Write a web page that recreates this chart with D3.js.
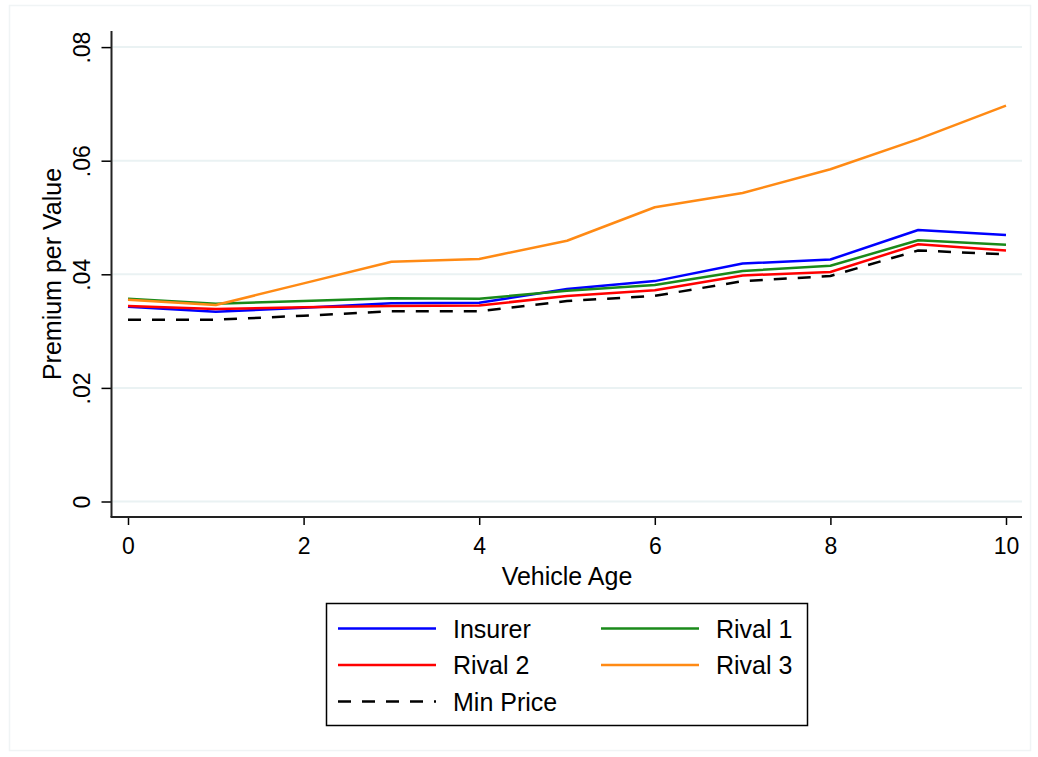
<!DOCTYPE html>
<html><head><meta charset="utf-8">
<script src="https://cdn.jsdelivr.net/npm/d3@7"></script>
<style>body{margin:0;background:#fff}svg{display:block}text{font-family:"Liberation Sans",Arial,sans-serif;fill:#000}</style>
</head><body>
<script>
const ages = [0,1,2,3,4,5,6,7,8,9,10];
const insurer = [0.0343,0.0334,0.0341,0.0349,0.0350,0.0374,0.0388,0.0419,0.0426,0.0478,0.0469];
const rival1  = [0.0357,0.0348,0.0353,0.0358,0.0357,0.0371,0.0381,0.0406,0.0415,0.0460,0.0452];
const rival2  = [0.0344,0.0339,0.0342,0.0344,0.0345,0.0362,0.0372,0.0398,0.0404,0.0453,0.0442];
const rival3  = [0.0355,0.0346,0.0384,0.0422,0.0427,0.0459,0.0518,0.0543,0.0585,0.0638,0.0697];
const minPrice= [0.0320,0.0320,0.0327,0.0335,0.0335,0.0353,0.0362,0.0388,0.0397,0.0442,0.0435];
const xTicks = [0,2,4,6,8,10];
const yTicks = [0,0.02,0.04,0.06,0.08];
const yTickLabels = ["0",".02",".04",".06",".08"];
const seriesNames = ["Insurer","Rival 1","Rival 2","Rival 3","Min Price"];

const W=1038,H=757;
const svg=d3.select("body").append("svg").attr("width",W).attr("height",H);
svg.append("rect").attr("x",9.5).attr("y",5.5).attr("width",1021).attr("height",745).attr("fill","#fff").attr("stroke","#f0f4f5").attr("stroke-width",1.5);

const x=d3.scaleLinear().domain([0,10]).range([128,1006]);
const y=d3.scaleLinear().domain([0,0.08]).range([501.5,47.1]);
const axX=111.5, axY=517, plotRight=1022, plotTop=31;

// grid
svg.append("g").selectAll("line").data(yTicks).join("line")
  .attr("x1",axX+1).attr("x2",plotRight).attr("y1",d=>y(d)).attr("y2",d=>y(d))
  .attr("stroke","#eaf2f3").attr("stroke-width",2);

// y axis
const ya=svg.append("g").attr("transform",`translate(${axX},0)`)
  .call(d3.axisLeft(y).tickValues(yTicks).tickSize(10).tickFormat((d,i)=>yTickLabels[i]));
ya.select(".domain").remove();
ya.selectAll(".tick line").attr("stroke","#000").attr("stroke-width",1.5);
ya.selectAll(".tick text").attr("font-size",23).attr("transform","rotate(-90)")
  .attr("x",0).attr("y",-22).attr("dy",0).attr("text-anchor","middle")
  .attr("font-family","Liberation Sans, Arial, sans-serif");
svg.append("line").attr("x1",axX).attr("x2",axX).attr("y1",plotTop).attr("y2",axY).attr("stroke","#222").attr("stroke-width",2);

// x axis
const xa=svg.append("g").attr("transform",`translate(0,${axY})`)
  .call(d3.axisBottom(x).tickValues(xTicks).tickSize(8).tickFormat(d3.format("d")));
xa.select(".domain").remove();
xa.selectAll(".tick line").attr("stroke","#000").attr("stroke-width",1.5);
xa.selectAll(".tick text").attr("font-size",23).attr("y",21).attr("dy","0.71em")
  .attr("font-family","Liberation Sans, Arial, sans-serif");
svg.append("line").attr("x1",axX-1).attr("x2",plotRight).attr("y1",axY).attr("y2",axY).attr("stroke","#222").attr("stroke-width",2);

// titles
svg.append("text").attr("x",567).attr("y",585).attr("text-anchor","middle").attr("font-size",25).text("Vehicle Age");
svg.append("text").attr("transform",`translate(61,274) rotate(-90)`).attr("text-anchor","middle").attr("font-size",25).text("Premium per Value");

// lines
const series=[
  {name:seriesNames[0],vals:insurer,color:"#0000ff",dash:null},
  {name:seriesNames[1],vals:rival1,color:"#1a8a1a",dash:null},
  {name:seriesNames[2],vals:rival2,color:"#ff0000",dash:null},
  {name:seriesNames[3],vals:rival3,color:"#ff8a14",dash:null},
  {name:seriesNames[4],vals:minPrice,color:"#000000",dash:"13,11"}
];
const line=d3.line().x(d=>x(d[0])).y(d=>y(d[1]));
svg.append("g").selectAll("path").data(series).join("path")
  .attr("d",s=>line(ages.map((a,i)=>[a,s.vals[i]])))
  .attr("fill","none").attr("stroke",s=>s.color).attr("stroke-width",2.5)
  .attr("stroke-dasharray",s=>s.dash).attr("stroke-linejoin","round");

// legend
const lg=svg.append("g");
lg.append("rect").attr("x",326.5).attr("y",603.5).attr("width",481).attr("height",122).attr("fill","#fff").attr("stroke","#000").attr("stroke-width",1.5);
const pos=[[338,628.5],[601,628.5],[338,665],[601,665],[338,701.5]];
series.forEach((s,i)=>{
  const [lx,ly]=pos[i];
  lg.append("line").attr("x1",lx).attr("x2",lx+98).attr("y1",ly).attr("y2",ly)
    .attr("stroke",s.color).attr("stroke-width",2.5).attr("stroke-dasharray",s.dash);
  lg.append("text").attr("x",lx+115).attr("y",ly).attr("dy","0.36em").attr("font-size",25).text(s.name);
});
</script>
</body></html>
